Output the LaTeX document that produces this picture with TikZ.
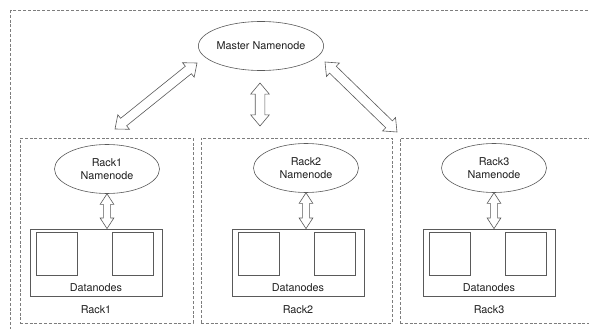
\documentclass[tikz,border=0pt]{standalone}
\usepackage{fontspec}
\setmainfont{TeX Gyre Heros}
\usetikzlibrary{shapes.geometric, shapes.arrows, positioning, calc}
\definecolor{linegray}{RGB}{90,90,90}
\definecolor{dashgray}{RGB}{125,125,125}
\definecolor{textgray}{RGB}{30,30,30}

% hollow double arrow laid between two named points
\newcommand{\linkarrow}[3]{%
  \path let \p1=($(#3)-(#2)$) in
    node[#1, minimum height={veclen(\x1,\y1)}, rotate={atan2(\y1,\x1)}] at ($(#2)!0.5!(#3)$) {};}

\begin{document}
\begin{tikzpicture}[x=1pt, y=-1pt, font=\fontsize{10.8}{12.8}\selectfont, text=textgray,
    rackbox/.style={draw=dashgray, dash pattern=on 3pt off 1.8pt, line width=0.6pt},
    namenode/.style={ellipse, draw=linegray, fill=white, line width=0.6pt, align=center, minimum width=105pt, minimum height=49pt, inner sep=0pt},
    datablock/.style={rectangle, draw=linegray, line width=0.8pt, minimum width=132pt, minimum height=67pt},
    disk/.style={rectangle, draw=linegray, line width=0.8pt, minimum width=41pt, minimum height=43pt, inner sep=0pt},
    bigarrow/.style={double arrow, draw=linegray, fill=white, line width=0.6pt, inner sep=4.5pt, double arrow head extend=4.5pt, double arrow tip angle=80},
    smallarrow/.style={double arrow, draw=linegray, fill=white, line width=0.6pt, inner sep=3.3pt, double arrow head extend=3.3pt, double arrow tip angle=66}]

    \useasboundingbox (0,0) rectangle (589,329);
    \clip (0,0) rectangle (589,329);

    % Cluster and racks
    \draw[rackbox] (10,10) rectangle (600,340);
    \node[rackbox, minimum width=173pt, minimum height=185pt] (rack1) at (106.5,230.5) {};
    \node[rackbox, minimum width=191pt, minimum height=185pt] (rack2) at (296.5,230.5) {};
    \node[rackbox, minimum width=200pt, minimum height=185pt] (rack3) at (500,230.5) {};

    % Namenodes
    \node[namenode, minimum width=125pt] (master) at (261,46) {Master Namenode};
    \node[namenode] (nn1) at (107,169) {Rack1\\Namenode};
    \node[namenode] (nn2) at (306,168) {Rack2\\Namenode};
    \node[namenode] (nn3) at (494,168) {Rack3\\Namenode};

    % Datanodes
    \foreach \i/\x in {1/96, 2/298, 3/489} {
        \node[datablock] (dn\i) at (\x,262.5) {};
        \node[disk, below right=3pt and 6pt of dn\i.north west] (dl\i) {};
        \node[disk, below left=3pt and 9pt of dn\i.north east] (dr\i) {};
        \node[above=1pt of dn\i.south] (dt\i) {Datanodes};
        \node[below=6pt of dn\i] (rl\i) {Rack\i};
        \coordinate (dt\i) at (nn\i.south |- dn\i.north);
        \linkarrow{smallarrow}{nn\i.south}{dt\i}
    }

    % Links to the master
    \coordinate (ml) at (197,63);
    \coordinate (mc) at (260,83);
    \coordinate (mr) at (325,62);
    \coordinate (r1) at (115,129);
    \coordinate (r2) at (260,126);
    \coordinate (r3) at (397,132);
    \linkarrow{bigarrow}{ml}{r1}
    \linkarrow{bigarrow}{mc}{r2}
    \linkarrow{bigarrow}{mr}{r3}
\end{tikzpicture}
\end{document}
